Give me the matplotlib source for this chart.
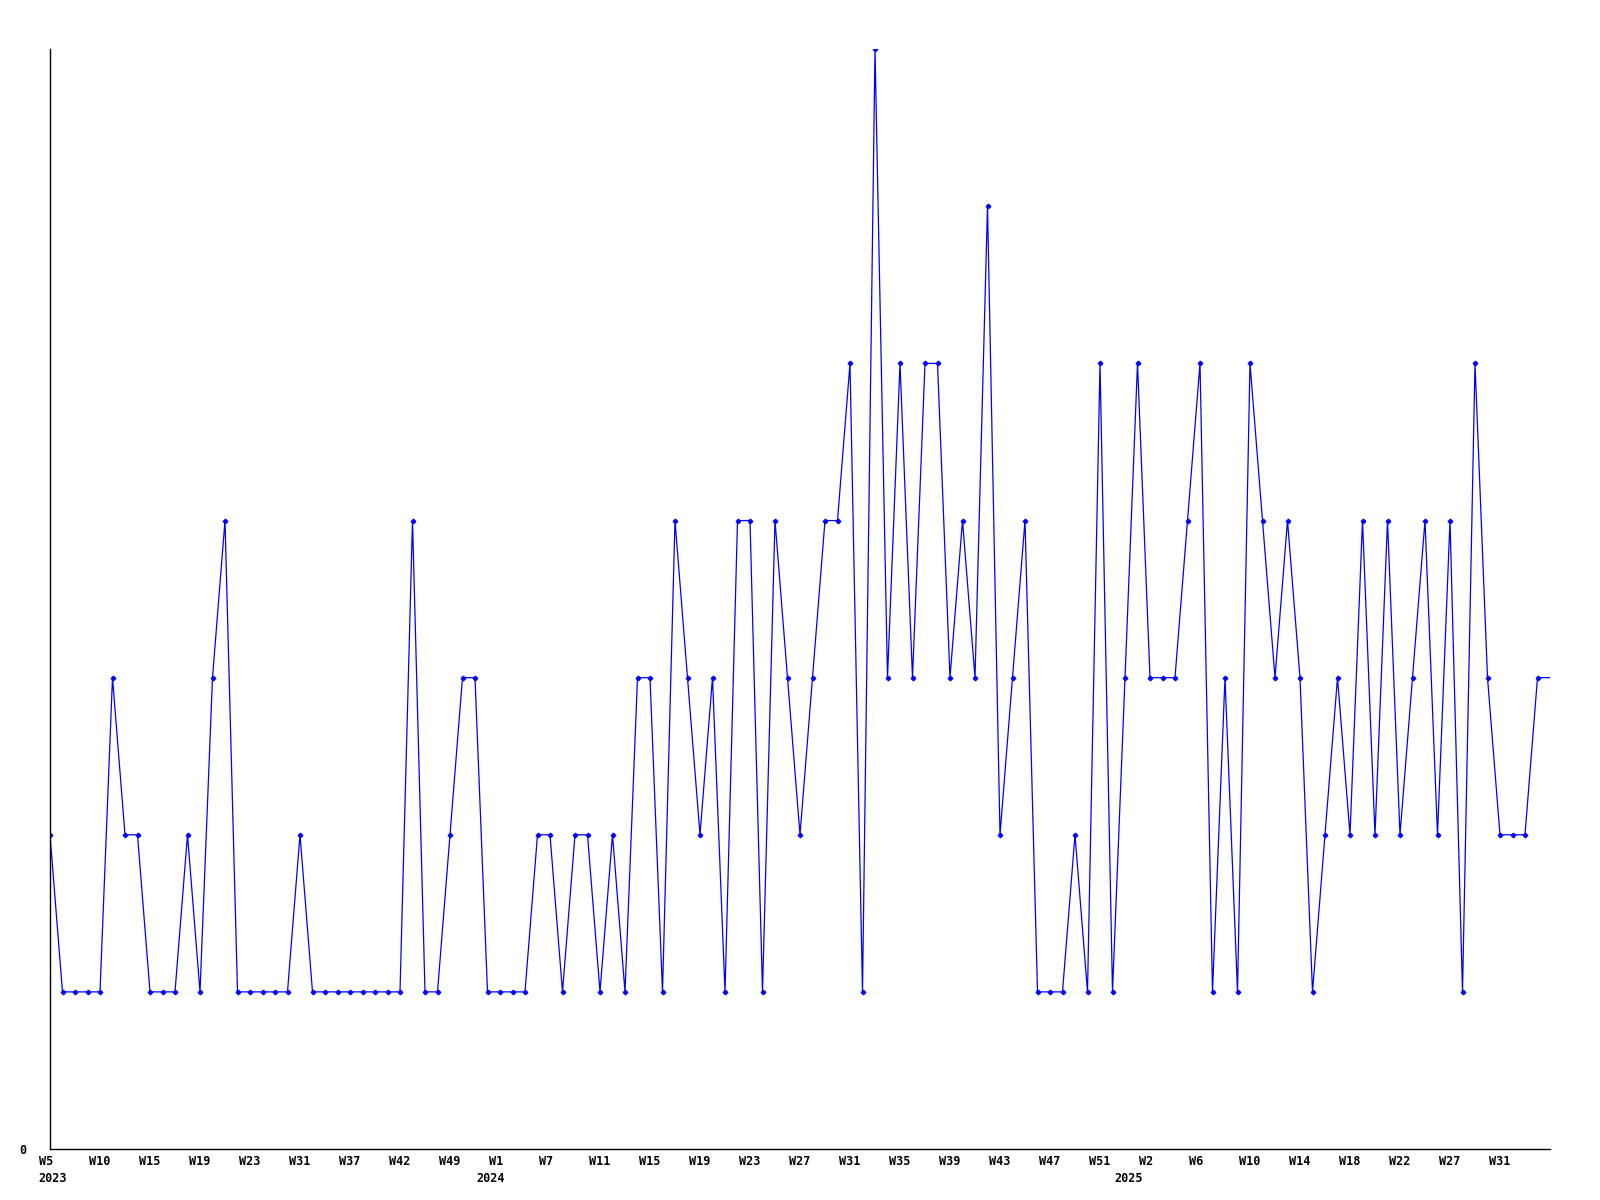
import matplotlib
matplotlib.use('Agg')
import matplotlib.pyplot as plt
import matplotlib.transforms as mtransforms
import numpy as np

# valores semanales (uno por semana con datos, las semanas sin datos no salen)
valores = [2, 1, 1, 1, 1, 3, 2, 2, 1, 1,
           1, 2, 1, 3, 4, 1, 1, 1, 1, 1,
           2, 1, 1, 1, 1, 1, 1, 1, 1, 4,
           1, 1, 2, 3, 3, 1, 1, 1, 1, 2,
           2, 1, 2, 2, 1, 2, 1, 3, 3, 1,
           4, 3, 2, 3, 1, 4, 4, 1, 4, 3,
           2, 3, 4, 4, 5, 1, 7, 3, 5, 3,
           5, 5, 3, 4, 3, 6, 2, 3, 4, 1,
           1, 1, 2, 1, 5, 1, 3, 5, 3, 3,
           3, 4, 5, 1, 3, 1, 5, 4, 3, 4,
           3, 1, 2, 3, 2, 4, 2, 4, 2, 3,
           4, 2, 4, 1, 5, 3, 2, 2, 2, 3,
           3]

# etiquetas del eje x (una cada 4 puntos)
semanas = ['W5', 'W10', 'W15', 'W19', 'W23', 'W31', 'W37', 'W42', 'W49',
           'W1', 'W7', 'W11', 'W15', 'W19', 'W23', 'W27', 'W31', 'W35',
           'W39', 'W43', 'W47', 'W51', 'W2', 'W6', 'W10', 'W14', 'W18',
           'W22', 'W27', 'W31']
anios = ['2023', '2024', '2025']
pos_anios = [0, 35.0, 86.05]

fuente = dict(family='DejaVu Sans Mono', weight='bold', size=8.5)

fig = plt.figure(figsize=(16, 12), dpi=100)
ax = fig.add_axes([0.03125, 0.0425, 0.9375, 0.9165])

x = np.arange(len(valores))
ax.plot(x, valores, color='#0000ff', lw=0.9, marker='D', ms=2.3,
        markevery=list(range(len(valores) - 1)))

ax.set_xlim(0, 120)
ax.set_ylim(0, 7)

for s in ['top', 'right']:
    ax.spines[s].set_visible(False)
ax.spines['left'].set_linewidth(1)
ax.spines['bottom'].set_linewidth(1)

ax.set_yticks([0])
ax.set_yticklabels(['0'], fontdict=fuente)
ax.tick_params(axis='y', length=0, pad=17)

ax.set_xticks(np.arange(0, 4 * len(semanas), 4))
ax.set_xticklabels(semanas, fontdict=fuente)
ax.tick_params(axis='x', length=0, pad=4)
desplaza = mtransforms.ScaledTranslation(-0.112, 0, fig.dpi_scale_trans)
for lab in ax.get_xticklabels():
    lab.set_horizontalalignment('left')
    lab.set_transform(lab.get_transform() + desplaza)

trans = mtransforms.blended_transform_factory(ax.transData, ax.transAxes)
for a, p in zip(anios, pos_anios):
    ax.text(p, -0.0205, a, transform=trans + desplaza, ha='left', va='top',
            **fuente)

fig.savefig('out.png', dpi=100)
